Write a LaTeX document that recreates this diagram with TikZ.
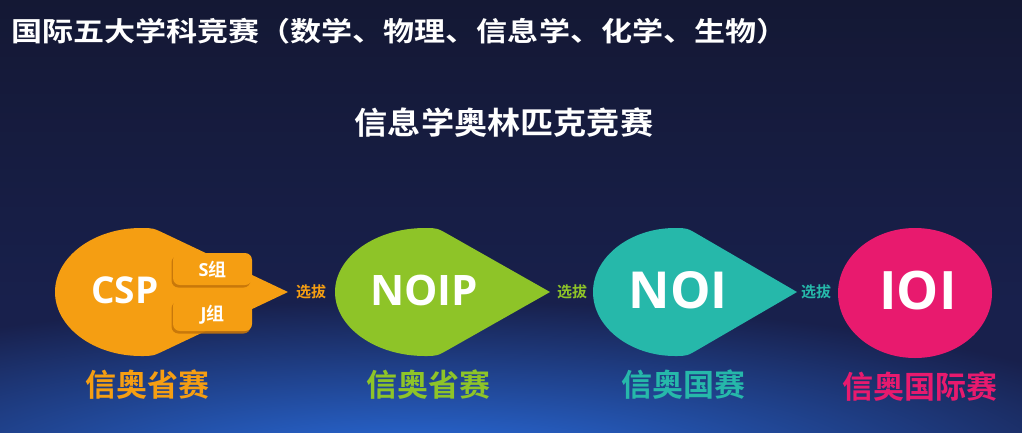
\documentclass[tikz,border=0pt]{standalone}
\usepackage{fontspec}
\newfontfamily\cjkT[FakeStretch=1.15]{Noto Sans CJK SC Bold}
\newfontfamily\cjkS[FakeStretch=1.07]{Noto Sans CJK SC Bold}
\newfontfamily\cjkL{Noto Sans CJK SC Bold}
\newfontfamily\lat{Open Sans Bold}
\usetikzlibrary{calc,shadows}
\definecolor{corange}{RGB}{245,158,18}
\definecolor{dorange}{RGB}{196,116,10}
\definecolor{cgreen}{RGB}{142,196,40}
\definecolor{cteal}{RGB}{38,184,170}
\definecolor{cpink}{RGB}{232,26,110}
\definecolor{bgtop}{RGB}{20,24,52}
\definecolor{bgmid}{RGB}{24,32,76}
\definecolor{bgbot}{RGB}{42,112,228}
\begin{document}
\begin{tikzpicture}[x=1pt,y=-1pt,
  txt/.style={inner sep=0pt,text=white},
  big/.style={txt,font={\lat\fontsize{#1}{#1}\selectfont}},
  lab/.style={inner sep=0pt,font={\cjkL\fontsize{31}{31}\selectfont}},
  sel/.style={inner sep=0pt,font={\cjkL\fontsize{15}{15}\selectfont}},
  grp/.style={fill=corange,rounded corners=7pt,minimum width=79pt,minimum height=32pt,inner sep=0pt,
    text=white,font={\fontsize{18}{18}\selectfont},
    drop shadow={shadow xshift=-1.5pt,shadow yshift=-2.5pt,fill=dorange,opacity=0.9}}]
\useasboundingbox (0,0) rectangle (1022,432);
% background
\shade[top color=bgtop,bottom color=bgmid] (0,0) rectangle (1022,300.5);
\fill[bgmid] (0,300) rectangle (1022,432);
\begin{scope}
  \clip (0,0) rectangle (1022,432);
  \shade[inner color=bgbot,outer color=bgmid] (420,470) ellipse [x radius=780, y radius=170];
\end{scope}

% titles
\node[txt,anchor=west,font={\cjkT\fontsize{27}{27}\selectfont}] (title) at (11,31) {国际五大学科竞赛（数学、物理、信息学、化学、生物）};
\node[txt,font={\cjkS\fontsize{31}{31}\selectfont}] (sub) at (504,123) {信息学奥林匹克竞赛};

% shapes
\fill[corange] (288,292) -- (165.6,234) .. controls (153,228) .. (141,228) .. controls (93.5,228) and (55,257) .. (55,292) .. controls (55,327) and (93.5,356) .. (141,356) .. controls (153,356) .. (165.6,350) -- cycle;
\fill[cgreen] (550,292) -- (449.2,234.9) .. controls (437,228) .. (425,228) .. controls (375,228) and (335,257) .. (335,292) .. controls (335,327) and (375,356) .. (425,356) .. controls (437,356) .. (449.2,349.1) -- cycle;
\fill[cteal] (797,292) -- (699.1,235.1) .. controls (687,228) .. (675,228) .. controls (630,228) and (593,257) .. (593,292) .. controls (593,327) and (630,356) .. (675,356) .. controls (687,356) .. (699.1,348.9) -- cycle;
\fill[cpink] (915,293) ellipse [x radius=77, y radius=65];

% group boxes
\node[grp] (sgrp) at (212.5,269) {{\lat S}{\cjkL 组}};
\node[grp] (jgrp) at (212.5,315) {{\lat J}{\cjkL 组}};

% shape texts
\node[big=37] (csp) at (125,290) {CSP};
\node[big=42] (noip) at (424,290) {NOIP};
\node[big=51] (noi) at (678,290) {NOI};
\node[big=53] (ioi) at (918,291) {IOI};

% selection labels
\node[sel,text=corange] (s1) at (311,292) {选拔};
\node[sel,text=cgreen] (s2) at (572,292) {选拔};
\node[sel,text=cteal] (s3) at (816,292) {选拔};

% bottom labels
\node[lab,text=corange] (l1) at (147,385) {信奥省赛};
\node[lab,text=cgreen] (l2) at (428,385) {信奥省赛};
\node[lab,text=cteal] (l3) at (683,385) {信奥国赛};
\node[lab,text=cpink] (l4) at (920,387) {信奥国际赛};
\end{tikzpicture}
\end{document}
